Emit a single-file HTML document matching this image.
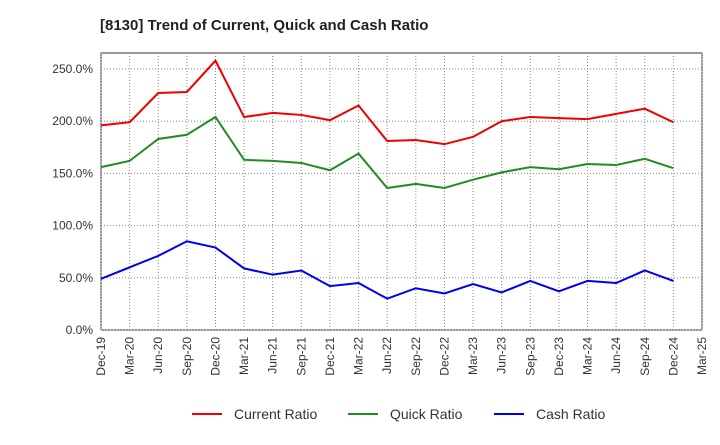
<!DOCTYPE html>
<html><head><meta charset="utf-8"><style>
body{margin:0;background:#fff;font-family:"Liberation Sans",sans-serif}
</style></head><body>
<svg id="c" width="720" height="440" xmlns="http://www.w3.org/2000/svg">
<text x="100" y="30" font-size="15" font-weight="bold" fill="#222">[8130]  Trend of Current, Quick and Cash Ratio</text>
</svg>
<script>
const xLabels=["Dec-19","Mar-20","Jun-20","Sep-20","Dec-20","Mar-21","Jun-21","Sep-21","Dec-21","Mar-22","Jun-22","Sep-22","Dec-22","Mar-23","Jun-23","Sep-23","Dec-23","Mar-24","Jun-24","Sep-24","Dec-24","Mar-25"];
const yTicks=[0,50,100,150,200,250];
const current=[196,199,227,228,258,204,208,206,201,215,181,182,178,185,200,204,203,202,207,212,199];
const quick=[156,162,183,187,204,163,162,160,153,169,136,140,136,144,151,156,154,159,158,164,155];
const cash=[49,60,71,85,79,59,53,57,42,45,30,40,35,44,36,47,37,47,45,57,47];
const NS="http://www.w3.org/2000/svg";
const svg=document.getElementById('c');
const L=101,R=702,T=53,B=330;
const x=i=>L+i*(R-L)/(xLabels.length-1);
const y=v=>B-v*(B-69)/250;
function mk(t,a){const e=document.createElementNS(NS,t);for(const k in a)e.setAttribute(k,a[k]);svg.appendChild(e);return e;}
const frame=mk('rect',{x:L,y:T,width:R-L,height:B-T,fill:'none',stroke:'#333','stroke-width':1});


yTicks.forEach(v=>{
 const g=mk('line',{x1:L,x2:R,y1:y(v),y2:y(v),stroke:'#888','stroke-dasharray':'1,2'});
 
 
 const t=mk('text',{x:L-8,y:y(v)+4,'text-anchor':'end','font-size':12,fill:'#333'});
 t.textContent=v.toFixed(1)+'%';
 
 
});
xLabels.forEach((s,i)=>{
 const g=mk('line',{x1:x(i),x2:x(i),y1:T,y2:B,stroke:'#888','stroke-dasharray':'1,2'});
 
 
 const t=mk('text',{x:0,y:0,'text-anchor':'end','font-size':12,fill:'#333',transform:`translate(${x(i)+4},${B+7}) rotate(-90)`});
 t.textContent=s;
 
 
});
[[current,'#ee0000','current-ratio-line'],[quick,'#228B22','quick-ratio-line'],[cash,'#0000ee','cash-ratio-line']].forEach(([d,c,n])=>{
 const p=mk('polyline',{points:d.map((v,i)=>x(i)+','+y(v)).join(' '),fill:'none',stroke:c,'stroke-width':2});
 
 
});
[['Current Ratio','#ee0000',192],['Quick Ratio','#228B22',348],['Cash Ratio','#0000ee',494]].forEach(([s,c,lx])=>{
 const l=mk('line',{x1:lx,x2:lx+30,y1:414,y2:414,stroke:c,'stroke-width':2});
 
 
 const t=mk('text',{x:lx+42,y:419,'font-size':14,fill:'#333'});
 t.textContent=s;
 
 
});
</script>
</body></html>
